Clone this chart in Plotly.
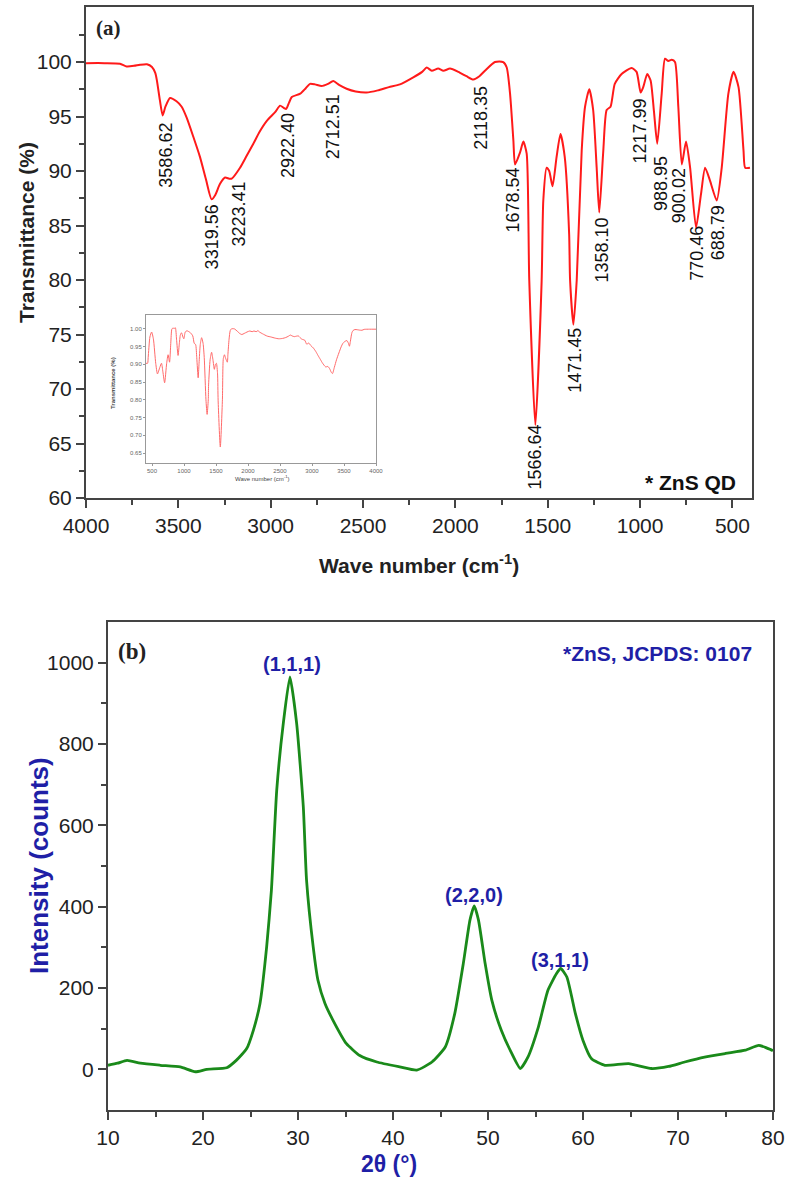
import plotly.graph_objects as go

# ---------------- FTIR (panel a) ----------------
ftir_wavenumber = [4000, 3900, 3816, 3780, 3740, 3708, 3670, 3643, 3625, 3616, 3600, 3585, 3570, 3545,
                   3510, 3482, 3455, 3420, 3383, 3350, 3320, 3300, 3275, 3247, 3225, 3211, 3166, 3130,
                   3094, 3060, 3021, 2976, 2949, 2930, 2916, 2900, 2886, 2840, 2810, 2787, 2760, 2724,
                   2690, 2661, 2630, 2589, 2540, 2481, 2420, 2360, 2300, 2228, 2180, 2155, 2128, 2093,
                   2065, 2029, 1984, 1940, 1903, 1870, 1840, 1786, 1741, 1722, 1704, 1686, 1677, 1650,
                   1632, 1614, 1600, 1567, 1533, 1524, 1506, 1492, 1474, 1452, 1431, 1408, 1384, 1379,
                   1361, 1343, 1316, 1298, 1275, 1254, 1235, 1221, 1199, 1181, 1160, 1137, 1100, 1046,
                   1019, 997, 983, 961, 943, 925, 907, 883, 865, 847, 829, 811, 793, 774, 751, 729, 697,
                   670, 648, 621, 585, 558, 522, 494, 467, 440, 431, 405]
ftir_transmittance = [99.9, 99.9, 99.85, 99.6, 99.65, 99.75, 99.8, 99.55, 99.0, 98.3, 96.5, 95.1, 95.9, 96.7,
                      96.4, 95.9, 94.9, 93.2, 91.3, 89.2, 87.4, 87.8, 88.8, 89.4, 89.3, 89.3, 90.3, 91.4,
                      92.5, 93.6, 94.6, 95.4, 96.0, 95.8, 95.7, 96.3, 96.8, 97.1, 97.6, 98.0, 97.95, 97.8,
                      98.0, 98.25, 97.9, 97.55, 97.3, 97.2, 97.4, 97.7, 97.95, 98.6, 99.1, 99.5, 99.2, 99.4,
                      99.2, 99.4, 99.1, 98.7, 98.4, 98.7, 99.2, 100.0, 100.0, 99.5, 97.1, 92.8, 90.6, 91.7,
                      92.7, 91.6, 80.0, 66.7, 79.9, 87.3, 90.3, 90.0, 88.6, 91.3, 93.4, 91.3, 84.2, 80.0,
                      75.9, 80.0, 91.9, 95.9, 97.5, 95.6, 90.3, 86.2, 91.9, 95.6, 95.9, 98.0, 98.9, 99.45,
                      99.1, 97.2, 97.7, 98.9, 98.3, 95.5, 92.5, 97.1, 100.3, 100.1, 100.2, 100.0, 95.9, 90.6,
                      92.7, 90.3, 84.8, 87.9, 90.3, 89.1, 87.3, 90.3, 97.1, 99.1, 97.7, 91.9, 90.3, 90.3]

peak_labels = ["3586.62", "3319.56", "3223.41", "2922.40", "2712.51", "2118.35", "1678.54", "1566.64",
               "1471.45", "1358.10", "1217.99", "988.95", "900.02", "770.46", "688.79"]
peak_label_x = [3567, 3318, 3172, 2906, 2663, 1861, 1688, 1569, 1352, 1201, 1001, 887, 789, 692, 578]
peak_label_y = [91.5, 84.0, 86.1, 92.3, 94.1, 94.9, 87.3, 63.8, 72.6, 82.8, 93.7, 88.9, 87.7, 82.5, 84.3]

ftir_xticks = [4000, 3500, 3000, 2500, 2000, 1500, 1000, 500]
ftir_xminor = [3750, 3250, 2750, 2250, 1750, 1250, 750]
ftir_yticks = [60, 65, 70, 75, 80, 85, 90, 95, 100]
ftir_yminor = [62.5, 67.5, 72.5, 77.5, 82.5, 87.5, 92.5, 97.5, 102.5]

inset_xticks = [500, 1000, 1500, 2000, 2500, 3000, 3500, 4000]
inset_yticks = [0.65, 0.70, 0.75, 0.80, 0.85, 0.90, 0.95, 1.00]

# ---------------- XRD (panel b) ----------------
xrd_2theta = [10, 11, 12, 13.4, 15.5, 17.6, 19.2, 20.4, 22.5, 23.5, 24.6, 25.3, 26.0, 26.7, 27.2, 27.76,
              28.45, 29.15, 29.86, 30.56, 30.9, 31.6, 32.1, 32.84, 33.7, 35.1, 36.5, 38.3, 40.7, 42.5,
              44.1, 45.5, 46.5, 47.4, 48.1, 48.55, 49.0, 49.7, 50.4, 51.4, 52.5, 53.4, 54.2, 55.3, 56.3,
              57.2, 57.65, 58.3, 59.2, 60.0, 60.9, 62.3, 64.8, 67.2, 69.0, 70.7, 72.8, 75.0, 77.1, 78.5,
              79.9, 80]
xrd_intensity = [10, 15, 22, 15, 10, 6, -6, 0, 4, 22, 51, 96, 162, 301, 440, 686,
                 850, 965, 850, 645, 465, 301, 219, 162, 120, 63, 34, 18, 6, -2,
                 18, 55, 137, 260, 367, 402, 367, 260, 170, 96, 39, 2, 30, 104, 194,
                 235, 248, 227, 137, 71, 26, 10, 14, 2, 7, 18, 30, 39, 47, 59,
                 47, 45]

hkl_labels = ["(1,1,1)", "(2,2,0)", "(3,1,1)"]
hkl_x = [29.34, 48.56, 57.58]
hkl_y = [996, 428, 268]

xrd_xticks = [10, 20, 30, 40, 50, 60, 70, 80]
xrd_xminor = [15, 25, 35, 45, 55, 65, 75]
xrd_yticks = [0, 200, 400, 600, 800, 1000]
xrd_yminor = [100, 300, 500, 700, 900]

W, H = 785, 1180
SANS = "Liberation Sans, Arial, sans-serif"
SERIF = "Liberation Serif, Times New Roman, serif"
AXC = "#444444"
BLUE = "#1f1fa6"


def px(x):
    return x / W


def py(y):
    return 1 - y / H


fig = go.Figure()

fig.add_trace(go.Scatter(x=ftir_wavenumber, y=ftir_transmittance, mode="lines",
                         line=dict(color="#ff1a1a", width=2, shape="spline", smoothing=0.6),
                         xaxis="x", yaxis="y", showlegend=False))

fig.add_trace(go.Scatter(x=ftir_wavenumber, y=[v / 100 for v in ftir_transmittance], mode="lines",
                         line=dict(color="#ff6a6a", width=1, shape="spline", smoothing=0.6),
                         xaxis="x3", yaxis="y3", showlegend=False))

fig.add_trace(go.Scatter(x=xrd_2theta, y=xrd_intensity, mode="lines",
                         line=dict(color="#1a8a1a", width=2.8, shape="spline", smoothing=0.5),
                         xaxis="x2", yaxis="y2", showlegend=False))


def axis_common(**kw):
    d = dict(showgrid=False, zeroline=False, showline=True, linecolor=AXC, linewidth=2,
             mirror=True, ticks="outside", ticklen=8, tickwidth=1.5, tickcolor=AXC,
             automargin=False,
             tickfont=dict(family=SANS, size=21, color="#222222"))
    d.update(kw)
    return d


fig.update_layout(
    width=W, height=H,
    margin=dict(l=0, r=0, t=0, b=0),
    paper_bgcolor="white", plot_bgcolor="white",
    xaxis=axis_common(domain=[px(86), px(752)], range=[4000, 394], anchor="y",
                      tickmode="array", tickvals=ftir_xticks,
                      minor=dict(tickmode="array", tickvals=ftir_xminor, ticks="outside",
                                 ticklen=5, tickwidth=1.5, tickcolor=AXC)),
    yaxis=axis_common(domain=[py(498), py(7)], range=[60, 105.05], anchor="x",
                      tickmode="array", tickvals=ftir_yticks,
                      minor=dict(tickmode="array", tickvals=ftir_yminor, ticks="outside",
                                 ticklen=5, tickwidth=1.5, tickcolor=AXC)),
    xaxis2=axis_common(domain=[px(108), px(773)], range=[10, 80], anchor="y2",
                       tickmode="array", tickvals=xrd_xticks,
                       minor=dict(tickmode="array", tickvals=xrd_xminor, ticks="outside",
                                  ticklen=5, tickwidth=1.5, tickcolor=AXC)),
    yaxis2=axis_common(domain=[py(1110), py(622)], range=[-100, 1100], anchor="x2",
                       tickmode="array", tickvals=xrd_yticks,
                       minor=dict(tickmode="array", tickvals=xrd_yminor, ticks="outside",
                                  ticklen=5, tickwidth=1.5, tickcolor=AXC)),
    xaxis3=dict(domain=[px(146), px(376)], range=[406, 4000], anchor="y3", automargin=False,
                showgrid=False, zeroline=False, showline=True, linecolor="#999999", linewidth=1,
                mirror=True, ticks="outside", ticklen=2, tickwidth=0.8, tickcolor="#999999",
                tickmode="array", tickvals=inset_xticks,
                tickfont=dict(family=SANS, size=6, color="#666666")),
    yaxis3=dict(domain=[py(463), py(315)], range=[0.622, 1.039], anchor="x3", automargin=False,
                showgrid=False, zeroline=False, showline=True, linecolor="#999999", linewidth=1,
                mirror=True, ticks="outside", ticklen=2, tickwidth=0.8, tickcolor="#999999",
                tickmode="array", tickvals=inset_yticks, tickformat=".2f",
                tickfont=dict(family=SANS, size=6, color="#666666")),
)

ann = []
# peak labels
for t, xv, yv in zip(peak_labels, peak_label_x, peak_label_y):
    ann.append(dict(x=xv, y=yv, xref="x", yref="y", text=t, textangle=-90, showarrow=False,
                    xanchor="center", yanchor="middle",
                    font=dict(family=SANS, size=18, color="#111111")))
# hkl labels
for t, xv, yv in zip(hkl_labels, hkl_x, hkl_y):
    ann.append(dict(x=xv, y=yv, xref="x2", yref="y2", text="<b>%s</b>" % t, showarrow=False,
                    xanchor="center", yanchor="middle",
                    font=dict(family=SANS, size=20, color=BLUE)))

ann += [
    dict(x=px(108), y=py(28), xref="paper", yref="paper", text="<b>(a)</b>", showarrow=False,
         xanchor="center", yanchor="middle", font=dict(family=SERIF, size=21, color="#222222")),
    dict(x=px(132), y=py(652), xref="paper", yref="paper", text="<b>(b)</b>", showarrow=False,
         xanchor="center", yanchor="middle", font=dict(family=SERIF, size=23, color="#222222")),
    dict(x=px(738), y=py(483), xref="paper", yref="paper", text="<b>* ZnS QD</b>", showarrow=False,
         xanchor="right", yanchor="middle", font=dict(family=SANS, size=21, color="#111111")),
    dict(x=px(754), y=py(653), xref="paper", yref="paper", text="<b>*ZnS, JCPDS: 0107</b>",
         showarrow=False, xanchor="right", yanchor="middle",
         font=dict(family=SANS, size=21, color=BLUE)),
    # axis titles
    dict(x=px(26), y=py(233), xref="paper", yref="paper", text="<b>Transmittance (%)</b>",
         textangle=-90, showarrow=False, xanchor="center", yanchor="middle",
         font=dict(family=SANS, size=21, color="#222222")),
    dict(x=px(419), y=py(564), xref="paper", yref="paper", text="<b>Wave number (cm<sup>-1</sup>)</b>",
         showarrow=False, xanchor="center", yanchor="middle",
         font=dict(family=SANS, size=21, color="#222222")),
    dict(x=px(39), y=py(866), xref="paper", yref="paper", text="<b>Intensity (counts)</b>",
         textangle=-90, showarrow=False, xanchor="center", yanchor="middle",
         font=dict(family=SANS, size=26, color=BLUE)),
    dict(x=px(389), y=py(1164), xref="paper", yref="paper", text="<b>2θ (°)</b>",
         showarrow=False, xanchor="center", yanchor="middle",
         font=dict(family=SANS, size=23, color=BLUE)),
    # inset axis titles
    dict(x=px(113), y=py(383), xref="paper", yref="paper", text="<b>Transmittance (%)</b>",
         textangle=-90, showarrow=False, xanchor="center", yanchor="middle",
         font=dict(family=SANS, size=6, color="#444444")),
    dict(x=px(262), y=py(478), xref="paper", yref="paper", text="Wave number (cm<sup>-1</sup>)",
         showarrow=False, xanchor="center", yanchor="middle",
         font=dict(family=SANS, size=6, color="#444444")),
]
fig.update_layout(annotations=ann)

fig.write_html("out.html", config={"displayModeBar": False},
               post_script="document.body.style.margin='0px';document.body.style.overflow='hidden';")
